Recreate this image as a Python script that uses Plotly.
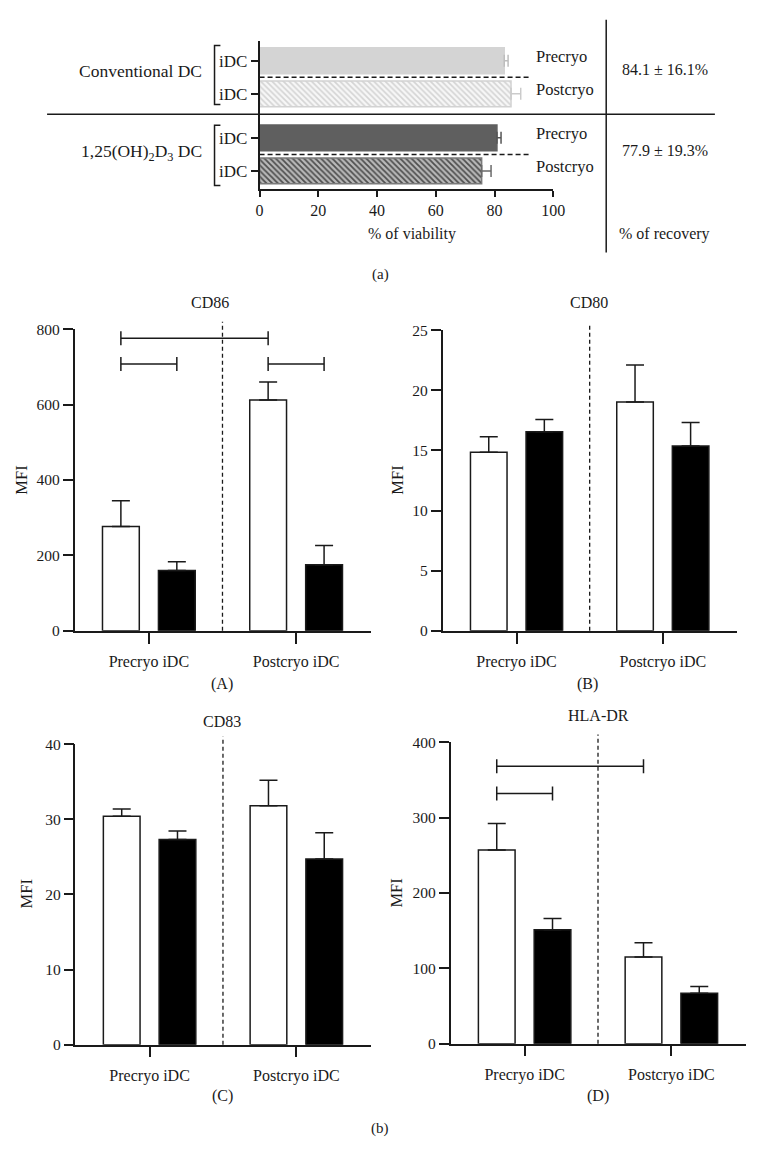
import plotly.graph_objects as go

W, H = 769, 1165
FONT = "Liberation Serif, Times New Roman, serif"
INK = "#1a1a1a"


def px(x):
    return x / W


def py(y):
    return 1 - y / H


# ---------------- panel (a) data ----------------
viab_groups = ["Conventional DC", "1,25(OH)<sub>2</sub>D<sub>3</sub> DC"]
viab_states = ["Precryo", "Postcryo"]
viab_conv = [83.3, 85.6]
viab_conv_err = [1.3, 3.3]
viab_vd = [80.8, 75.6]
viab_vd_err = [1.4, 3.2]
recovery_text = ["84.1 ± 16.1%", "77.9 ± 19.3%"]
viab_ticks = [0, 20, 40, 60, 80, 100]

# ---------------- panel (b) data ----------------
markers = ["CD86", "CD80", "CD83", "HLA-DR"]
panel_letters = ["(A)", "(B)", "(C)", "(D)"]
stages = ["Precryo iDC", "Postcryo iDC"]

cd86_conv = [277, 612]
cd86_conv_err = [68, 48]
cd86_vd = [160, 175]
cd86_vd_err = [23, 51]

cd80_conv = [14.86, 19.04]
cd80_conv_err = [1.29, 3.06]
cd80_vd = [16.56, 15.38]
cd80_vd_err = [1.01, 1.94]

cd83_conv = [30.4, 31.8]
cd83_conv_err = [0.96, 3.4]
cd83_vd = [27.3, 24.7]
cd83_vd_err = [1.14, 3.5]

hla_conv = [257, 115]
hla_conv_err = [35, 19]
hla_vd = [151, 67]
hla_vd_err = [15, 9]

y_max = [800, 25, 40, 400]
y_step = [200, 5, 10, 100]

# significance brackets: (series a, stage a, series b, stage b, level)
cd86_sig = [("conv", 0, "conv", 1, 776), ("conv", 0, "vd", 0, 708), ("conv", 1, "vd", 1, 708)]
cd80_sig = []
cd83_sig = []
hla_sig = [("conv", 0, "conv", 1, 368), ("conv", 0, "vd", 0, 332)]

panel_data = [
    (cd86_conv, cd86_conv_err, cd86_vd, cd86_vd_err, cd86_sig),
    (cd80_conv, cd80_conv_err, cd80_vd, cd80_vd_err, cd80_sig),
    (cd83_conv, cd83_conv_err, cd83_vd, cd83_vd_err, cd83_sig),
    (hla_conv, hla_conv_err, hla_vd, hla_vd_err, hla_sig),
]

fig = go.Figure()
shapes = []
annotations = []


def ann(text, x, y, size=15, xanchor="center", yanchor="middle", angle=0, xref="paper", yref="paper"):
    annotations.append(dict(text=text, x=x, y=y, xref=xref, yref=yref, xanchor=xanchor,
                            yanchor=yanchor, showarrow=False, textangle=angle,
                            font=dict(family=FONT, size=size, color=INK)))


# ================= panel (a) =================
GROUP_STEP = 2.33
bar_styles = [
    [dict(color="#d4d4d4", line="#d4d4d4", pattern=None, err="#bdbdbd"),
     dict(color="#f4f4f4", line="#d2d2d2",
          pattern=dict(shape="\\", fgcolor="#d4d4d4", bgcolor="#f7f7f7", size=4, solidity=0.4),
          err="#cbcbcb")],
    [dict(color="#5f5f5f", line="#5f5f5f", pattern=None, err="#555555"),
     dict(color="#b0b0b0", line="#7a7a7a",
          pattern=dict(shape="\\", fgcolor="#4f4f4f", bgcolor="#b9b9b9", size=4, solidity=0.45),
          err="#6a6a6a")],
]
viab_vals = [viab_conv, viab_vd]
viab_errs = [viab_conv_err, viab_vd_err]
ypos_all = []
for gi in range(2):
    for si in range(2):
        st = bar_styles[gi][si]
        pos = gi * GROUP_STEP + si
        ypos_all.append(pos)
        mk = dict(color=st["color"], line=dict(color=st["line"], width=1.5))
        if st["pattern"]:
            mk["pattern"] = dict(fillmode="replace", **st["pattern"])
        fig.add_trace(go.Bar(
            x=[viab_vals[gi][si]], y=[pos], orientation="h", width=0.78,
            marker=mk, xaxis="x", yaxis="y", showlegend=False,
            error_x=dict(type="data", array=[viab_errs[gi][si]], arrayminus=[0],
                         symmetric=False, color=st["err"], thickness=1.5, width=6),
        ))
        # state label
        ann(viab_states[si], 93.3, pos - 0.12, size=16.5, xanchor="left", xref="x", yref="y")
    # group dashed separator
    shapes.append(dict(type="line", xref="x", yref="y", x0=0, x1=91.7,
                       y0=gi * GROUP_STEP + 0.5, y1=gi * GROUP_STEP + 0.5,
                       line=dict(color=INK, width=1.5, dash="5px,3px")))
    # group label
    ann(viab_groups[gi], px(204), py([63, 146][gi]), size=17.5, xanchor="right")
    # bracket
    top, bot = [(37, 97), (118, 179)][gi]
    shapes.append(dict(type="path", xref="paper", yref="paper",
                       path=f"M {px(221)},{py(top)} L {px(215)},{py(top)} L {px(215)},{py(bot)} L {px(221)},{py(bot)}",
                       line=dict(color=INK, width=1.5)))
    # recovery value
    ann(recovery_text[gi], px(675), py([61, 144][gi]), size=16)

ann("% of viability", px(417), py(228), size=16)
ann("% of recovery", px(675), py(228), size=16)
ann("(a)", px(384), py(269), size=15)

shapes.append(dict(type="line", xref="paper", yref="paper", x0=px(615), x1=px(615),
                   y0=py(11), y1=py(247), line=dict(color=INK, width=1.5)))
shapes.append(dict(type="line", xref="paper", yref="paper", x0=px(44), x1=px(726),
                   y0=py(106.7), y1=py(106.7), line=dict(color=INK, width=1.5)))

layout = dict(
    xaxis=dict(domain=[px(261), px(561)], range=[0, 100], anchor="y", tickvals=viab_ticks,
               showline=True, linecolor=INK, linewidth=1.5, ticks="outside", ticklen=6,
               tickwidth=1.5, tickcolor=INK, showgrid=False, zeroline=False,
               tickfont=dict(family=FONT, size=16, color=INK), fixedrange=True),
    yaxis=dict(domain=[py(182.5), py(32)], range=[3.87, -0.61], anchor="x",
               tickvals=ypos_all, ticktext=["iDC"] * 4, showline=True, linecolor=INK,
               linewidth=1.5, ticks="outside", ticklen=7, tickwidth=1.5, tickcolor=INK,
               showgrid=False, zeroline=False,
               tickfont=dict(family=FONT, size=17, color=INK), fixedrange=True),
)

# ================= panel (b) =================
BAR_W = 0.25
OFFSETS = {"conv": -0.315, "vd": 0.065}
FILLS = {"conv": "white", "vd": "black"}
x_domains = [(72, 375), (448, 749), (73, 375), (456, 758)]
y_domains = [(325, 631), (326, 631), (746, 1051), (744, 1050)]
title_pos = [(210, 298), (597, 298), (223, 723), (607, 717)]
mfi_pos = [(17, 478), (401, 478), (23, 898), (401, 897)]
letter_pos = [(223, 685), (596, 685), (223, 1103), (607, 1103)]

for i in range(4):
    k = i + 2
    xa, ya = f"x{k}", f"y{k}"
    conv, conv_err, vd, vd_err, sig = panel_data[i]
    series = {"conv": (conv, conv_err), "vd": (vd, vd_err)}
    for name in ["conv", "vd"]:
        vals, errs = series[name]
        fig.add_trace(go.Bar(
            x=stages, y=vals, width=BAR_W, offset=OFFSETS[name],
            marker=dict(color=FILLS[name], line=dict(color=INK, width=1.5)),
            error_y=dict(type="data", array=errs, arrayminus=[0] * len(errs), symmetric=False,
                         color=INK, thickness=1.5, width=9),
            xaxis=xa, yaxis=ya, showlegend=False,
        ))
    x0, x1 = x_domains[i]
    y0, y1 = y_domains[i]
    layout[f"xaxis{k}"] = dict(
        domain=[px(x0), px(x1)], anchor=ya, type="category", categoryorder="array",
        categoryarray=stages, range=[-0.505, 1.51], showline=True, linecolor=INK,
        linewidth=1.5, ticks="outside", ticklen=11, tickwidth=1.5, tickcolor=INK,
        showgrid=False, zeroline=False, ticklabelstandoff=4,
        tickfont=dict(family=FONT, size=16, color=INK), fixedrange=True)
    layout[f"yaxis{k}"] = dict(
        domain=[py(y1), py(y0)], anchor=xa, range=[0, y_max[i]], dtick=y_step[i],
        tick0=0, showline=True, linecolor=INK, linewidth=1.5, ticks="outside",
        ticklen=10, tickwidth=1.5, tickcolor=INK, showgrid=False, zeroline=False,
        tickfont=dict(family=FONT, size=15.5, color=INK), fixedrange=True)

    # dashed divider between stages
    shapes.append(dict(type="line", xref=xa, yref=f"{ya} domain", x0=0.5, x1=0.5,
                       y0=0, y1=1.025, line=dict(color=INK, width=1.3, dash="4px,3px")))
    # significance brackets
    for (sa, ia, sb, ib, lvl) in sig:
        xa_c = ia + OFFSETS[sa] + BAR_W / 2
        xb_c = ib + OFFSETS[sb] + BAR_W / 2
        shapes.append(dict(type="line", xref=xa, yref=ya, x0=xa_c, x1=xb_c, y0=lvl, y1=lvl,
                           line=dict(color=INK, width=1.5)))
        for xc in (xa_c, xb_c):
            shapes.append(dict(type="line", xref=xa, yref=ya, x0=xc, x1=xc,
                               ysizemode="pixel", yanchor=lvl, y0=-7, y1=7,
                               line=dict(color=INK, width=1.5)))

    ann(markers[i], px(title_pos[i][0]), py(title_pos[i][1]), size=16)
    ann("MFI", px(mfi_pos[i][0]), py(mfi_pos[i][1]), size=16.5, angle=-90)
    ann(panel_letters[i], px(letter_pos[i][0]), py(letter_pos[i][1]), size=16)

ann("(b)", px(384), py(1136), size=15)

fig.update_layout(
    width=W, height=H, margin=dict(l=0, r=0, t=0, b=0),
    paper_bgcolor="white", plot_bgcolor="white", barmode="overlay",
    shapes=shapes, annotations=annotations, showlegend=False,
    font=dict(family=FONT, size=15, color=INK),
    **layout,
)

fig.write_html("out.html", config={"displayModeBar": False},
               post_script="document.body.style.margin='0';document.body.style.padding='0';")
